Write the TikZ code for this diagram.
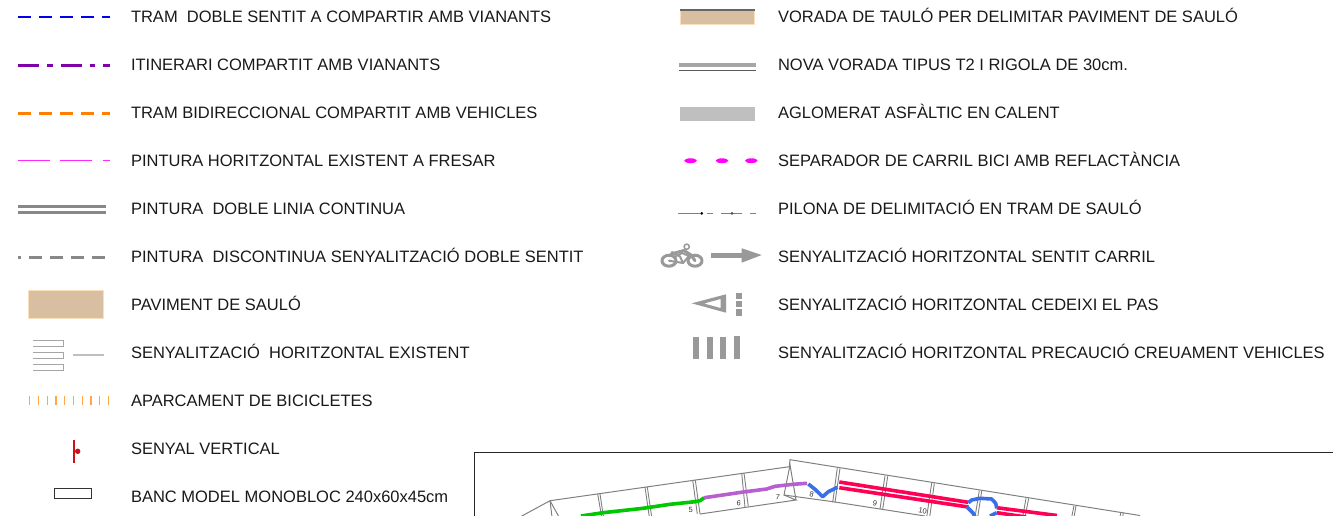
\documentclass[tikz,border=0pt]{standalone}
\usepackage{fontspec}
\setmainfont{Liberation Sans}
\definecolor{sand}{RGB}{216,191,162}
\definecolor{sandedge}{RGB}{251,222,188}
\definecolor{roadgray}{RGB}{136,136,136}
\definecolor{paintgray}{RGB}{153,153,153}
\definecolor{pinkred}{RGB}{255,0,85}
\definecolor{lilac}{RGB}{182,95,208}
\definecolor{routeblue}{RGB}{59,111,232}
\definecolor{routegreen}{RGB}{0,200,0}
\definecolor{legblue}{RGB}{0,0,235}
\definecolor{legpurple}{RGB}{128,0,170}
\definecolor{legorange}{RGB}{255,128,0}
\definecolor{legmagenta}{RGB}{255,0,255}
\definecolor{legred}{RGB}{205,15,25}
\begin{document}
\begin{tikzpicture}[
  x=1pt,
  y=-1pt,
  legtext/.style={
    anchor=base west,
    inner sep=0pt,
    outer sep=0pt,
    text=black!90,
    font=\fontsize{16.5}{18}\selectfont
  },
  numtext/.style={
    inner sep=0pt,
    text=black!80,
    font=\fontsize{7.5}{8}\selectfont
  },
  swatch/.style={
    fill=sand,
    draw=sandedge,
    line width=1pt
  },
  mapline/.style={
    draw=gray,
    line width=1pt
  },
  cutline/.style={
    draw=gray,
    line width=0.9pt
  },
  routeline/.style={
    line width=3.6pt,
    line join=round
  },
  bikeline/.style={
    draw=paintgray,
    line width=2pt,
    line join=round,
    line cap=round
  }
]
\useasboundingbox (0,0) rectangle (1333,515);
\draw[legblue,line width=2.5pt,dash pattern=on 13.3pt off 7.7pt] (18,17) -- (110,17);
\draw[legpurple,line width=2.7pt,dash pattern=on 21pt off 8pt on 5.5pt off 8pt] (18,65.7) -- (110,65.7);
\draw[legorange,line width=3pt,dash pattern=on 13.3pt off 7.7pt] (18,113.7) -- (110,113.7);
\draw[legmagenta!85,line width=1.2pt,dash pattern=on 32pt off 10.3pt] (18,160.7) -- (110,160.7);
\draw[roadgray,line width=3pt] (18,206.4) -- (106,206.4);
\draw[roadgray,line width=3pt] (18,212.4) -- (106,212.4);
\draw[roadgray,line width=3.2pt,dash pattern=on 13pt off 8pt,dash phase=10.5pt] (18,257.5) -- (105,257.5);
\filldraw[swatch] (28,290.7) rectangle (103,318.3);
\draw[gray!70,line width=1pt] (32.5,340) -- (63.5,340) -- (63.5,346) -- (32.5,346);
\draw[gray!70,line width=1pt] (32.5,352.5) -- (63.5,352.5) -- (63.5,358.5) -- (32.5,358.5);
\draw[gray!70,line width=1pt] (32.5,364.5) -- (63.5,364.5) -- (63.5,370.5) -- (32.5,370.5);
\draw[gray!50,line width=1.6pt] (73,355) -- (104,355);
\draw[legorange!70,line width=8.7pt,dash pattern=on 1.3pt off 7.45pt] (29,400.3) -- (109,400.3);
\draw[legred,line width=1.4pt] (74,440) -- (74,462.7);
\fill[legred] (77.7,451.3) circle (2.7pt);
\draw[black!80,line width=1pt] (54.3,488.7) rectangle (91,498.3);

\filldraw[swatch] (680,9.5) rectangle (754.5,24.3);
\draw[black!60,line width=2pt] (680,9.8) -- (754.5,9.8);
\draw[gray!70,line width=3.2pt] (679,65) -- (755.7,65);
\draw[black!65,line width=1pt] (679,70.3) -- (755.7,70.3);
\fill[gray!50] (680,107) rectangle (755,121);
\fill[legmagenta] (690.5,160.7) ellipse (6.3pt and 2.4pt);
\fill[legmagenta] (722,160.7) ellipse (6.3pt and 2.4pt);
\fill[legmagenta] (751.3,160.7) ellipse (6.3pt and 2.4pt);
\draw[gray,line width=0.8pt] (678.3,213.3) -- (700,213.3);
\draw[gray,line width=0.8pt] (707.3,213.3) -- (712.7,213.3);
\draw[gray,line width=0.8pt] (721,213.3) -- (741.7,213.3);
\draw[gray,line width=0.8pt] (750,213.3) -- (755.7,213.3);
\fill[black] (701.7,213.3) circle (1.5pt);
\fill[black!70] (732,213.3) circle (1.5pt);

\draw[bikeline,line width=3pt] (669,260.7) ellipse (7pt and 5.5pt);
\draw[bikeline,line width=3pt] (695,260.7) ellipse (7pt and 5.5pt);
\draw[bikeline,line width=1.5pt] (686.7,246.7) circle (2.6pt);
\draw[bikeline,line width=3pt] (671,254) -- (684,250.5) -- (691,255) -- (695,260.7);
\draw[bikeline] (672,252) -- (680,256.5) -- (683,263) -- (669,260.7);
\draw[bikeline] (674,257) -- (682,253) -- (689,256) -- (683,263);
\fill[paintgray] (710.7,252.5) rectangle (741.7,257.5);
\fill[paintgray] (741.7,248.3) -- (761.7,255) -- (741.7,262.7) -- cycle;
\fill[paintgray,even odd rule] (691.7,303.3) -- (726,294.3) -- (726,312.7) -- cycle (704,303.5) -- (720.5,308) -- (720.5,299) -- cycle;
\fill[paintgray] (735.7,292.7) rectangle (742.3,299.3);
\fill[paintgray] (735.7,301) rectangle (742.3,307.3);
\fill[paintgray] (735.7,309.3) rectangle (742.3,315.7);
\fill[paintgray] (693.3,337) rectangle (699.3,359);
\fill[paintgray] (707,337) rectangle (713,359);
\fill[paintgray] (720.3,337) rectangle (726.3,359);
\fill[paintgray] (734,336) rectangle (740,358.5);

\node[legtext] (tram) at (131,22.5) {TRAM\ \ DOBLE SENTIT A COMPARTIR AMB VIANANTS};
\node[legtext] (itin) at (131,70.5) {ITINERARI COMPARTIT AMB VIANANTS};
\node[legtext] (bidir) at (131,118.5) {TRAM BIDIRECCIONAL COMPARTIT AMB VEHICLES};
\node[legtext] (fresar) at (131,166.5) {PINTURA HORITZONTAL EXISTENT A FRESAR};
\node[legtext] (doble) at (131,214.5) {PINTURA\ \ DOBLE LINIA CONTINUA};
\node[legtext] (disc) at (131,262.5) {PINTURA\ \ DISCONTINUA SENYALITZACIÓ DOBLE SENTIT};
\node[legtext] (saulo) at (131,310.5) {PAVIMENT DE SAULÓ};
\node[legtext] (senyal) at (131,358.5) {SENYALITZACIÓ\ \ HORITZONTAL EXISTENT};
\node[legtext] (aparc) at (131,406.5) {APARCAMENT DE BICICLETES};
\node[legtext] (vert) at (131,454.5) {SENYAL VERTICAL};
\node[legtext] (banc) at (131,502.5) {BANC MODEL MONOBLOC 240x60x45cm};
\node[legtext] (vorada) at (778,22.5) {VORADA DE TAULÓ PER DELIMITAR PAVIMENT DE SAULÓ};
\node[legtext] (nova) at (778,70.5) {NOVA VORADA TIPUS T2 I RIGOLA DE 30cm.};
\node[legtext] (aglo) at (778,118.5) {AGLOMERAT ASFÀLTIC EN CALENT};
\node[legtext] (separ) at (778,166.5) {SEPARADOR DE CARRIL BICI AMB REFLACTÀNCIA};
\node[legtext] (pilona) at (778,214.5) {PILONA DE DELIMITACIÓ EN TRAM DE SAULÓ};
\node[legtext] (sentit) at (778,262.5) {SENYALITZACIÓ HORITZONTAL SENTIT CARRIL};
\node[legtext] (cedeix) at (778,310.5) {SENYALITZACIÓ HORITZONTAL CEDEIXI EL PAS};
\node[legtext] (precau) at (778,358.5) {SENYALITZACIÓ HORITZONTAL PRECAUCIÓ CREUAMENT VEHICLES};

\begin{scope}
\clip (0,0) rectangle (1333,515);
\draw[black!85,line width=1.2pt] (474.5,530) -- (474.5,452.5) -- (1340,452.5);
\draw[mapline] (520,517) -- (550,500.7) -- (789.3,466.7) -- (790,459.7) -- (1140,515.5);
\draw[mapline] (550,500.7) -- (552,517);
\draw[mapline] (550,500.7) -- (559,517);
\draw[mapline] (700,514) -- (796,500) -- (784,495) -- (790,465) -- (796,500);
\draw[mapline] (784,495) -- (833,501.7) -- (925,516);
\draw[cutline] (597.7,494) -- (601.7,517);
\draw[cutline] (600,494) -- (603.5,517);
\draw[cutline] (645,487) -- (649.3,517);
\draw[cutline] (647.3,487) -- (651.7,517);
\draw[cutline] (692.7,480) -- (697.3,514);
\draw[cutline] (695.3,480) -- (700,514);
\draw[cutline] (741.7,473) -- (745,507.3);
\draw[cutline] (744,473) -- (748.3,506.7);
\draw[cutline] (837.3,467.7) -- (832.7,502.3);
\draw[cutline] (840,468.3) -- (835,502.3);
\draw[cutline] (885,475.7) -- (880,509);
\draw[cutline] (887.7,476.3) -- (882.7,509);
\draw[cutline] (931.7,482.7) -- (926.7,517);
\draw[cutline] (934.3,483.3) -- (929.7,517);
\draw[cutline] (979.3,490.7) -- (975,517);
\draw[cutline] (981.7,491) -- (977.7,517);
\draw[cutline] (1026,498.3) -- (1022.7,517);
\draw[cutline] (1028.7,498.3) -- (1025,517);
\draw[cutline] (1074,505.7) -- (1071.7,517);
\draw[cutline] (1076,506) -- (1074,517);
\draw[cutline] (1120.7,512.7) -- (1120,517);
\draw[cutline] (1123.3,512.7) -- (1122.7,517);

\draw[routeline,routegreen] (581,516) -- (603,512.7) -- (643,508.3) -- (670,504.3) -- (695,501.7) -- (700,500.7) -- (704.3,497.7);
\draw[routeline,lilac] (704.3,497.7) -- (743.3,492) -- (766.7,489) -- (775,486.3) -- (793,484.3) -- (807,483.3);
\draw[routeline,routeblue] (808.3,484) -- (815,489.3) -- (822.7,496.7) -- (828.3,491.7) -- (837.3,487.3);
\draw[routeline,pinkred] (839.3,482) -- (968.3,502.3);
\draw[routeline,pinkred] (839.3,487.7) -- (968.3,507);
\draw[routeline,pinkred] (996.7,507.7) -- (1057,515.5);
\draw[routeline,pinkred] (996.7,512.7) -- (1026,517);
\draw[routeline,routeblue] (968.3,502.7) -- (971.7,500) -- (980,498.3) -- (991.7,499) -- (995.7,503.3) -- (996.7,508.3);
\draw[routeline,routeblue] (966.7,506.7) -- (973.3,513.3) -- (975,517);
\draw[routeline,routeblue] (996.7,512.7) -- (990,516);
\end{scope}

\node[numtext] (five) at (690.7,510.3) {5};
\node[numtext,rotate=-8] (six) at (738.7,503.3) {6};
\node[numtext,rotate=-8] (seven) at (777.7,497) {7};
\node[numtext,rotate=-12] (eight) at (811.7,494.3) {8};
\node[numtext,rotate=-12] (nine) at (875,503.7) {9};
\node[numtext,rotate=-12] (ten) at (922.7,511) {10};
\end{tikzpicture}
\end{document}
